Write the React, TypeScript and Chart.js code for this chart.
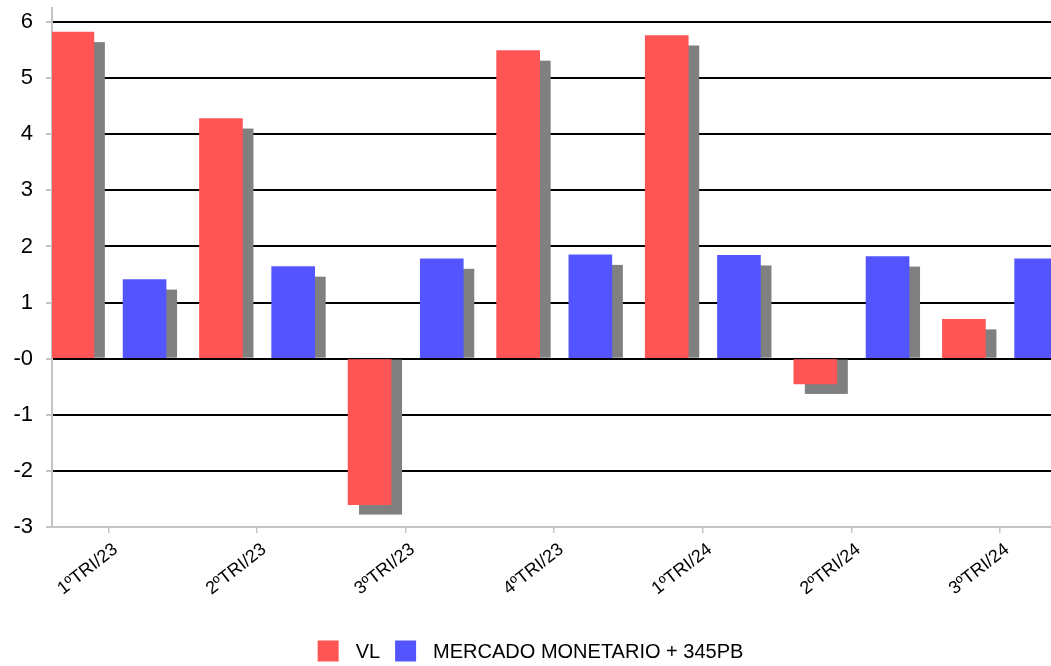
import React, { useEffect, useRef } from 'react';
import { Chart, registerables } from 'chart.js';

Chart.register(...registerables);

// Quarterly returns
const categories = ['1ºTRI/23', '2ºTRI/23', '3ºTRI/23', '4ºTRI/23', '1ºTRI/24', '2ºTRI/24', '3ºTRI/24'];
const vlValues = [5.82, 4.28, -2.6, 5.49, 5.76, -0.45, 0.7];
const mercadoValues = [1.41, 1.64, 1.78, 1.85, 1.84, 1.82, 1.78];
const yTickValues = [-3, -2, -1, 0, 1, 2, 3, 4, 5, 6];
const seriesNames = ['VL', 'MERCADO MONETARIO + 345PB'];

const RED = '#FF5555';
const BLUE = '#5555FF';
const SHADOW = '#808080';
const AXIS_GREY = '#c4c4c4';
const FONT_FAMILY = '"Liberation Sans", Arial, sans-serif';

// Horizontal layout of the category axis (in category units)
const X_MIN = -0.38;
const X_MAX = 6.343;
const BAR_SHIFT = 0.243;
const BAR_WIDTH = 43;

// Drop shadow offset for each bar
const SHADOW_DX = 11;
const SHADOW_DY = 10;

const shadowPlugin = {
  id: 'barShadow',
  beforeDatasetsDraw(chart: any) {
    const { ctx, chartArea } = chart;
    ctx.save();
    ctx.beginPath();
    ctx.rect(chartArea.left, chartArea.top, chartArea.right - chartArea.left, chartArea.bottom - chartArea.top);
    ctx.clip();
    ctx.fillStyle = SHADOW;
    chart.data.datasets.forEach((_: any, di: number) => {
      const meta = chart.getDatasetMeta(di);
      meta.data.forEach((bar: any) => {
        const { x, y, base, width } = bar.getProps(['x', 'y', 'base', 'width'], true);
        const end = y + SHADOW_DY;
        const top = Math.min(base, end);
        const bottom = Math.max(base, end);
        ctx.fillRect(x - width / 2 + SHADOW_DX, top, width, bottom - top);
      });
    });
    ctx.restore();
  },
};

const legendPlugin = {
  id: 'bottomLegend',
  afterDraw(chart: any) {
    const { ctx } = chart;
    const colors = [RED, BLUE];
    const box = 21;
    const textGap = 17;
    const itemGap = 15;
    ctx.save();
    ctx.font = `20px ${FONT_FAMILY}`;
    ctx.textBaseline = 'middle';
    ctx.textAlign = 'left';
    const widths = seriesNames.map((n) => ctx.measureText(n).width);
    const total =
      widths.reduce((s, w) => s + box + textGap + w, 0) + itemGap * (seriesNames.length - 1);
    let x = chart.width / 2 + 5 - total / 2;
    const cy = chart.height - 15;
    seriesNames.forEach((name, i) => {
      ctx.fillStyle = colors[i];
      ctx.fillRect(x, cy - box / 2, box, box);
      x += box + textGap;
      ctx.fillStyle = '#000';
      ctx.fillText(name, x, cy + 1);
      x += widths[i] + itemGap;
    });
    ctx.restore();
  },
};

export default function App() {
  const canvasRef = useRef<HTMLCanvasElement | null>(null);

  useEffect(() => {
    if (!canvasRef.current) return;
    const chart = new Chart(canvasRef.current, {
      type: 'bar',
      data: {
        datasets: [
          {
            label: seriesNames[0],
            data: vlValues.map((v, i) => ({ x: i - BAR_SHIFT, y: v })),
            backgroundColor: RED,
            barThickness: BAR_WIDTH,
            grouped: false,
          },
          {
            label: seriesNames[1],
            data: mercadoValues.map((v, i) => ({ x: i + BAR_SHIFT, y: v })),
            backgroundColor: BLUE,
            barThickness: BAR_WIDTH,
            grouped: false,
          },
        ],
      },
      options: {
        animation: false,
        responsive: true,
        maintainAspectRatio: false,
        layout: { padding: { top: 8, left: 0, right: 0, bottom: 0 } },
        plugins: {
          legend: { display: false },
          tooltip: { enabled: false },
        },
        scales: {
          x: {
            type: 'linear',
            offset: false,
            min: X_MIN,
            max: X_MAX,
            afterBuildTicks: (s: any) => {
              s.ticks = categories.map((_, i) => ({ value: i }));
            },
            afterFit: (s: any) => {
              s.height = 139;
              s.paddingLeft = 0;
              s.paddingRight = 0;
            },
            ticks: {
              minRotation: 38,
              maxRotation: 38,
              autoSkip: false,
              color: '#000',
              padding: 6,
              labelOffset: 7,
              font: { family: FONT_FAMILY, size: 18 },
              callback: (v: any) => categories[Math.round(Number(v))] ?? '',
            },
            grid: {
              offset: false,
              drawOnChartArea: false,
              drawTicks: true,
              tickLength: 6,
              color: AXIS_GREY,
              lineWidth: 1.5,
            },
            border: { color: AXIS_GREY, width: 2 },
          },
          y: {
            type: 'linear',
            min: -3,
            max: 6.25,
            afterBuildTicks: (s: any) => {
              s.ticks = yTickValues.map((v) => ({ value: v }));
            },
            afterFit: (s: any) => {
              s.width = 52;
              s.paddingTop = 0;
              s.paddingBottom = 0;
            },
            ticks: {
              color: '#000',
              padding: 13,
              font: { family: FONT_FAMILY, size: 22 },
              callback: (v: any) => (Number(v) === 0 ? '-0' : String(v)),
            },
            grid: {
              drawTicks: true,
              tickLength: 6,
              lineWidth: 2,
              color: (c: any) => (c.tick && c.tick.value === -3 ? 'rgba(0,0,0,0)' : '#000'),
              tickColor: AXIS_GREY,
            },
            border: { color: AXIS_GREY, width: 2 },
          },
        },
      },
      plugins: [shadowPlugin, legendPlugin],
    } as any);
    return () => chart.destroy();
  }, []);

  return (
    <div style={{ position: 'fixed', left: 0, top: 0, width: 1051, height: 666, background: '#fff' }}>
      <canvas ref={canvasRef} />
    </div>
  );
}
